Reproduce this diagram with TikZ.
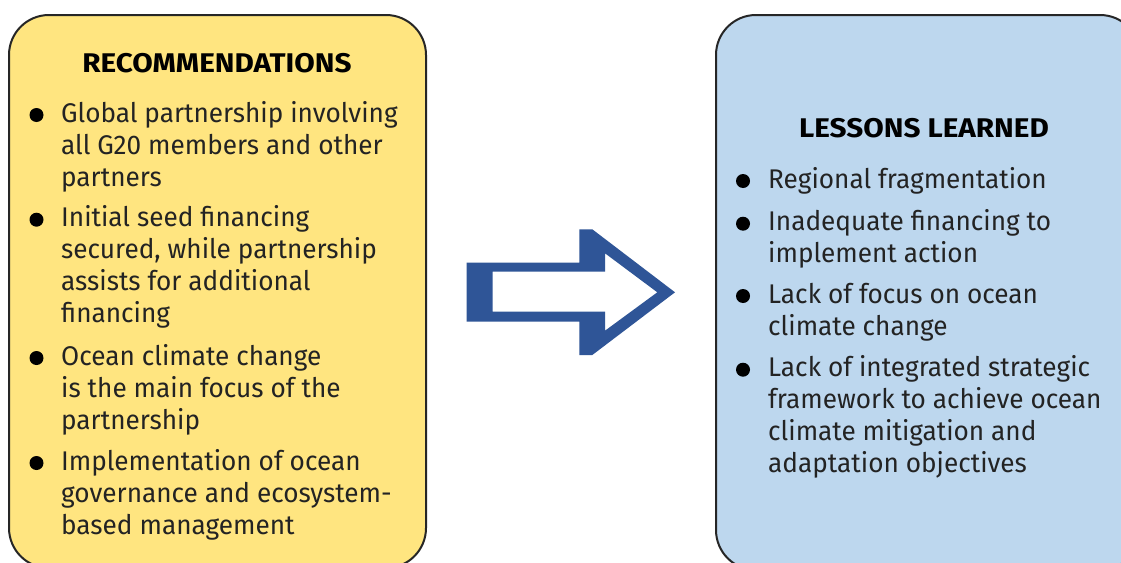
\documentclass[tikz,border=0pt]{standalone}
\usepackage{fontspec}
\setmainfont{Fira Sans}[FakeStretch=0.97]
\newfontfamily\headfont{Fira Sans}[FakeStretch=1.1]
\definecolor{yel}{HTML}{FFE580}
\definecolor{blu}{HTML}{BDD7EE}
\definecolor{arr}{HTML}{2F5597}
\definecolor{boxline}{HTML}{262626}
\definecolor{txt}{HTML}{232323}
\begin{document}
\begin{tikzpicture}[x=1pt,y=-1pt,
  box/.style={draw=boxline, line width=2pt, rounded corners=40pt},
  item/.style={anchor=base west, inner sep=0pt, align=left, font=\fontsize{27}{32}\selectfont, text=txt},
  head/.style={anchor=base, inner sep=0pt, font=\headfont\fontsize{27}{32}\selectfont\bfseries, text=black},
  dot/.style={circle, fill=black, minimum size=14pt, inner sep=0pt}]
\useasboundingbox (0,0) rectangle (1121,562);
\clip (0,0) rectangle (1121,562);
\fill[white] (0,0) rectangle (1121,562);
% boxes
\draw[box, fill=yel] (9,15) rectangle (426,568);
\draw[box, fill=blu] (716,15) rectangle (1140,570);
% arrow
\fill[arr, even odd rule]
  (466.7,262.7) -- (579.3,262.7) -- (579.3,229.3) -- (592.3,229.3) -- (675,292.3)
  -- (592.3,355) -- (579.3,355) -- (579.3,321.7) -- (466.7,321.7) -- cycle
  (492.7,271.7) -- (605,271.7) -- (605,253.3) -- (657.3,292.3) -- (605,330.7)
  -- (605,311.7) -- (492.7,311.7) -- cycle;
% left (nodes anchored at the baseline of their last line)
\node[head] (rtitle) at (217,72) {RECOMMENDATIONS};
\node[dot] (rd1) at (36.5,115) {};
\node[item] (r1) at (61,186) {Global partnership involving\\all G20 members and other\\partners};
\node[dot] (rd2) at (36.5,219.7) {};
\node[item] (r2) at (61,322.7) {Initial seed financing\\secured, while partnership\\assists for additional\\financing};
\node[dot] (rd3) at (36.5,358) {};
\node[item] (r3) at (61,429) {Ocean climate change\\is the main focus of the\\partnership};
\node[dot] (rd4) at (36.5,463) {};
\node[item] (r4) at (61,534) {Implementation of ocean\\governance and ecosystem-\\based management};
% right
\node[head] (ltitle) at (924,137) {LESSONS LEARNED};
\node[dot] (ld1) at (743,181) {};
\node[item] (l1) at (768,188) {Regional fragmentation};
\node[dot] (ld2) at (743,223.7) {};
\node[item] (l2) at (768,262.7) {Inadequate financing to\\implement action};
\node[dot] (ld3) at (743,296) {};
\node[item] (l3) at (768,335) {Lack of focus on ocean\\climate change};
\node[dot] (ld4) at (743,369.7) {};
\node[item] (l4) at (768,472.7) {Lack of integrated strategic\\framework to achieve ocean\\climate mitigation and\\adaptation objectives};
\end{tikzpicture}
\end{document}
